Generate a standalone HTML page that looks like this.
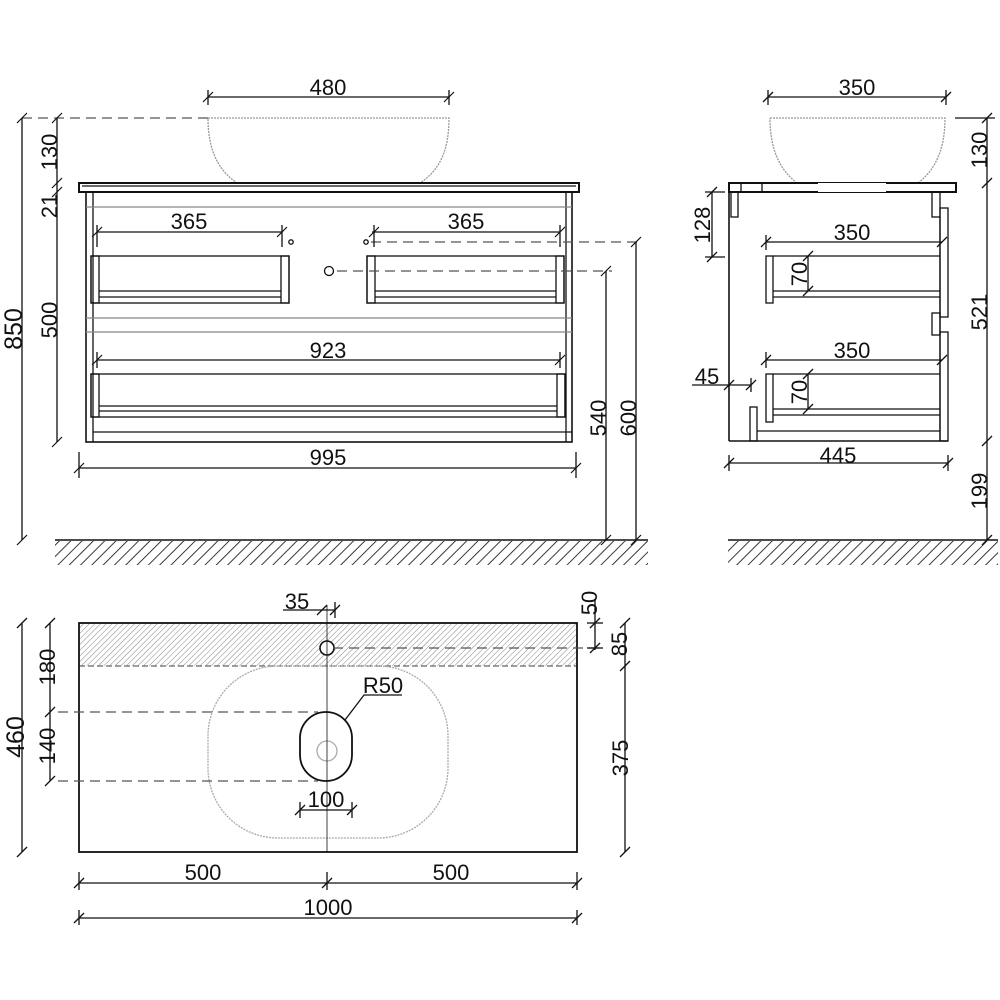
<!DOCTYPE html>
<html><head><meta charset="utf-8"><style>
html,body{margin:0;padding:0;background:#fff;}
svg{display:block;}
text{font-family:"Liberation Sans",sans-serif;font-size:22px;fill:#111;}
</style></head><body>
<svg width="1000" height="1000" viewBox="0 0 1000 1000" xmlns="http://www.w3.org/2000/svg">
<defs>
<pattern id="h" width="8" height="8" patternUnits="userSpaceOnUse" patternTransform="rotate(45)"><line x1="0" y1="0" x2="0" y2="8" stroke="#222" stroke-width="1.8"/></pattern>
<pattern id="h2" width="4" height="4" patternUnits="userSpaceOnUse" patternTransform="rotate(45)"><line x1="0" y1="0" x2="0" y2="4" stroke="#777" stroke-width="0.9"/></pattern>
</defs>
<g stroke="#111" fill="none" stroke-width="1.3">
<path d="M208 118 L449 118 C449 150 440 170 420 183 L237 183 C218 170 208 150 208 118" stroke="#999" stroke-dasharray="2 1"/>
<line x1="22" y1="118" x2="208" y2="118" stroke="#555" stroke-dasharray="10 6"/>
<rect x="79" y="183" width="500" height="9" stroke-width="2"/>
<line x1="82" y1="186" x2="576" y2="186"/>
<rect x="86" y="192" width="486" height="250" stroke-width="1.6"/>
<line x1="93" y1="192" x2="93" y2="442"/>
<line x1="566" y1="192" x2="566" y2="442"/>
<line x1="86" y1="207" x2="572" y2="207" stroke="#888"/>
<line x1="86" y1="318" x2="572" y2="318" stroke="#888"/>
<line x1="86" y1="332" x2="572" y2="332" stroke="#888"/>
<line x1="93" y1="432" x2="572" y2="432"/>
<rect x="91" y="256" width="198" height="47"/><rect x="91" y="256" width="8" height="47"/><rect x="281" y="256" width="8" height="47"/>
<line x1="99" y1="291" x2="281" y2="291"/><line x1="99" y1="297" x2="281" y2="297"/>
<rect x="367" y="256" width="197" height="47"/><rect x="367" y="256" width="8" height="47"/><rect x="556" y="256" width="8" height="47"/>
<line x1="375" y1="291" x2="556" y2="291"/><line x1="375" y1="297" x2="556" y2="297"/>
<rect x="91" y="374" width="474" height="43"/><rect x="91" y="374" width="8" height="43"/><rect x="557" y="374" width="8" height="43"/>
<line x1="99" y1="406" x2="557" y2="406"/><line x1="99" y1="411" x2="557" y2="411"/>
<circle cx="291" cy="242" r="2.2"/><circle cx="366" cy="242" r="2.2"/><circle cx="329" cy="271" r="4.5"/>
<line x1="371" y1="242" x2="640" y2="242" stroke="#555" stroke-dasharray="10 6"/>
<line x1="337" y1="271" x2="612" y2="271" stroke="#555" stroke-dasharray="10 6"/>
<line x1="22" y1="118" x2="22" y2="540"/>
<line x1="57" y1="118" x2="57" y2="442"/>
<line x1="208" y1="97" x2="449" y2="97"/><line x1="208" y1="90" x2="208" y2="105"/><line x1="449" y1="90" x2="449" y2="105"/>
<line x1="97" y1="232" x2="282" y2="232"/><line x1="97" y1="225" x2="97" y2="247"/><line x1="282" y1="225" x2="282" y2="247"/>
<line x1="372" y1="232" x2="560" y2="232"/><line x1="374" y1="225" x2="374" y2="247"/><line x1="560" y1="225" x2="560" y2="247"/>
<line x1="97" y1="360" x2="560" y2="360"/><line x1="97" y1="352" x2="97" y2="368"/><line x1="560" y1="352" x2="560" y2="368"/>
<line x1="79" y1="468" x2="576" y2="468"/><line x1="79" y1="452" x2="79" y2="478"/><line x1="576" y1="452" x2="576" y2="478"/>
<line x1="606" y1="271" x2="606" y2="540"/><line x1="636" y1="242" x2="636" y2="540"/>
<g stroke-width="1.2">
<path d="M17 123l10-10M17 545l10-10M52 123l10-10M52 188l10-10M52 197l10-10M52 447l10-10M203 102l10-10M444 102l10-10M92 237l10-10M277 237l10-10M369 237l10-10M555 237l10-10M92 365l10-10M555 365l10-10M74 473l10-10M571 473l10-10M601 276l10-10M601 545l10-10M631 247l10-10M631 545l10-10"/>
</g>
<line x1="55" y1="540" x2="648" y2="540" stroke-width="1.6"/>
<rect x="55" y="541" width="593" height="24" fill="url(#h)" stroke="none"/>

<path d="M770 118 L945 118 C945 150 935 170 918 183 L797 183 C780 170 770 150 770 118" stroke="#999" stroke-dasharray="2 1"/>
<line x1="955" y1="118" x2="995" y2="118"/>
<rect x="729" y="183" width="227" height="9" stroke-width="2"/>
<line x1="741" y1="183" x2="741" y2="192"/><line x1="762" y1="183" x2="762" y2="192"/>
<rect x="818" y="183" width="68" height="9" fill="#fff" stroke="none"/>
<line x1="729" y1="192" x2="729" y2="441" stroke-width="1.6"/>
<line x1="729" y1="441" x2="948" y2="441" stroke-width="1.6"/>
<rect x="731" y="192" width="7" height="25"/><rect x="932" y="192" width="8" height="25"/>
<rect x="940" y="208" width="8" height="109"/><rect x="932" y="313" width="8" height="22"/><rect x="940" y="332" width="8" height="109"/>
<line x1="940" y1="217" x2="940" y2="441"/>
<rect x="766" y="256" width="7" height="47"/><line x1="773" y1="256" x2="940" y2="256"/><line x1="773" y1="291" x2="940" y2="291"/><line x1="773" y1="297" x2="940" y2="297"/>
<rect x="766" y="374" width="7" height="48"/><line x1="773" y1="374" x2="940" y2="374"/><line x1="773" y1="409" x2="940" y2="409"/><line x1="773" y1="415" x2="940" y2="415"/>
<rect x="750" y="407" width="7" height="34"/><line x1="757" y1="431" x2="940" y2="431"/>
<line x1="768" y1="97" x2="946" y2="97"/><line x1="768" y1="90" x2="768" y2="105"/><line x1="946" y1="90" x2="946" y2="105"/>
<line x1="712" y1="192" x2="712" y2="257"/><line x1="705" y1="192" x2="725" y2="192"/><line x1="705" y1="257" x2="725" y2="257"/>
<line x1="766" y1="242" x2="942" y2="242"/><line x1="766" y1="235" x2="766" y2="250"/>
<line x1="766" y1="360" x2="942" y2="360"/><line x1="766" y1="352" x2="766" y2="368"/>
<line x1="808" y1="256" x2="808" y2="291"/><line x1="808" y1="374" x2="808" y2="409"/>
<line x1="692" y1="385" x2="751" y2="385"/><line x1="751" y1="378" x2="751" y2="392"/>
<line x1="729" y1="463" x2="948" y2="463"/><line x1="729" y1="455" x2="729" y2="471"/><line x1="948" y1="455" x2="948" y2="471"/>
<line x1="987" y1="118" x2="987" y2="540"/>
<path d="M763 102l10-10M941 102l10-10M707 197l10-10M707 262l10-10M761 247l10-10M937 247l10-10M761 365l10-10M937 365l10-10M803 261l10-10M803 296l10-10M803 379l10-10M803 414l10-10M724 390l10-10M746 390l10-10M724 468l10-10M943 468l10-10M982 123l10-10M982 188l10-10M982 446l10-10M982 545l10-10"/>
<line x1="728" y1="540" x2="998" y2="540" stroke-width="1.6"/>
<rect x="728" y="541" width="270" height="24" fill="url(#h)" stroke="none"/>

<rect x="79" y="623" width="498" height="43" fill="url(#h2)" stroke="none"/>
<line x1="79" y1="666" x2="577" y2="666" stroke="#666" stroke-dasharray="6 3"/>
<rect x="79" y="623" width="498" height="229" stroke-width="1.8"/>
<rect x="208" y="666" width="240" height="172" rx="70" ry="70" stroke="#aaa" stroke-dasharray="2 1"/>
<rect x="300" y="712" width="52" height="69" rx="26" ry="26" stroke-width="1.8"/>
<circle cx="327" cy="751" r="10" stroke="#aaa"/>
<circle cx="327" cy="648" r="7" stroke-width="1.6" fill="#fff"/>
<line x1="327" y1="605" x2="327" y2="852" stroke-width="0.8"/>
<line x1="333" y1="648" x2="600" y2="648" stroke="#555" stroke-dasharray="10 6"/>
<line x1="58" y1="712" x2="318" y2="712" stroke="#555" stroke-dasharray="10 6"/>
<line x1="58" y1="781" x2="318" y2="781" stroke="#555" stroke-dasharray="10 6"/>
<path d="M345 720L364 695L402 695"/>
<line x1="300" y1="810" x2="352" y2="810"/><line x1="300" y1="802" x2="300" y2="818"/><line x1="352" y1="802" x2="352" y2="818"/>
<line x1="283" y1="610" x2="335" y2="610"/><line x1="335" y1="602" x2="335" y2="618"/>
<line x1="22" y1="623" x2="22" y2="852"/><line x1="50" y1="623" x2="50" y2="781"/>
<line x1="595" y1="600" x2="595" y2="650"/><line x1="587" y1="623" x2="603" y2="623"/><line x1="587" y1="648" x2="603" y2="648"/>
<line x1="625" y1="623" x2="625" y2="852"/>
<line x1="79" y1="883" x2="577" y2="883"/><line x1="79" y1="872" x2="79" y2="890"/><line x1="327" y1="872" x2="327" y2="890"/><line x1="577" y1="872" x2="577" y2="890"/>
<line x1="79" y1="918" x2="577" y2="918"/><line x1="79" y1="910" x2="79" y2="925"/><line x1="577" y1="910" x2="577" y2="925"/>
<path d="M295 815l10-10M347 815l10-10M317 615l10-10M330 615l10-10M17 628l10-10M17 857l10-10M45 628l10-10M45 717l10-10M45 786l10-10M590 628l10-10M590 653l10-10M620 628l10-10M620 671l10-10M620 857l10-10M74 888l10-10M322 888l10-10M572 888l10-10M74 923l10-10M572 923l10-10"/>
</g>
<g>
<text x="328" y="95" text-anchor="middle">480</text>
<text x="189" y="229" text-anchor="middle">365</text>
<text x="466" y="229" text-anchor="middle">365</text>
<text x="328" y="358" text-anchor="middle">923</text>
<text x="328" y="465" text-anchor="middle">995</text>
<text transform="translate(22,329) rotate(-90)" text-anchor="middle" style="font-size:25px">850</text>
<text transform="translate(57,152) rotate(-90)" text-anchor="middle">130</text>
<text transform="translate(57,206) rotate(-90)" text-anchor="middle">21</text>
<text transform="translate(57,320) rotate(-90)" text-anchor="middle">500</text>
<text transform="translate(606,418) rotate(-90)" text-anchor="middle">540</text>
<text transform="translate(636,418) rotate(-90)" text-anchor="middle">600</text>
<text x="857" y="95" text-anchor="middle">350</text>
<text x="852" y="240" text-anchor="middle">350</text>
<text x="852" y="358" text-anchor="middle">350</text>
<text x="838" y="463" text-anchor="middle">445</text>
<text x="707" y="384" text-anchor="middle">45</text>
<text transform="translate(710,225) rotate(-90)" text-anchor="middle">128</text>
<text transform="translate(807,274) rotate(-90)" text-anchor="middle">70</text>
<text transform="translate(807,392) rotate(-90)" text-anchor="middle">70</text>
<text transform="translate(987,150) rotate(-90)" text-anchor="middle">130</text>
<text transform="translate(987,312) rotate(-90)" text-anchor="middle">521</text>
<text transform="translate(987,491) rotate(-90)" text-anchor="middle">199</text>
<text x="297" y="609" text-anchor="middle">35</text>
<text x="383" y="693" text-anchor="middle">R50</text>
<text x="326" y="807" text-anchor="middle">100</text>
<text x="203" y="880" text-anchor="middle">500</text>
<text x="451" y="880" text-anchor="middle">500</text>
<text x="328" y="915" text-anchor="middle">1000</text>
<text transform="translate(24,737) rotate(-90)" text-anchor="middle" style="font-size:25px">460</text>
<text transform="translate(55,667) rotate(-90)" text-anchor="middle">180</text>
<text transform="translate(55,746) rotate(-90)" text-anchor="middle">140</text>
<text transform="translate(597,603) rotate(-90)" text-anchor="middle">50</text>
<text transform="translate(627,644) rotate(-90)" text-anchor="middle">85</text>
<text transform="translate(628,758) rotate(-90)" text-anchor="middle">375</text>
</g>
</svg>
</body></html>
